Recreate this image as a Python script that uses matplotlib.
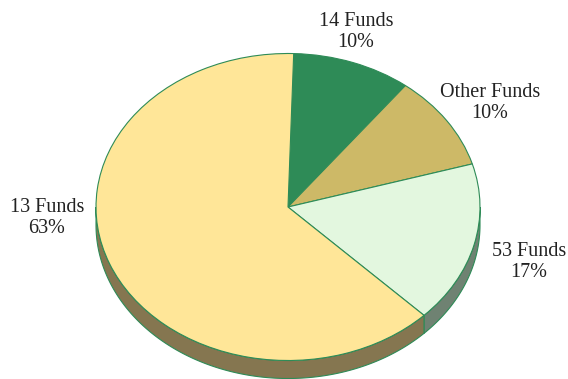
import numpy as np
import matplotlib
matplotlib.use("Agg")
import matplotlib.pyplot as plt

W, H = 568, 379
names = ["14 Funds", "Other Funds", "53 Funds", "13 Funds"]
shares = [10, 10, 17, 63]
top_colors = ["#2E8B57", "#CDB967", "#E3F7DF", "#FFE698"]
wall_colors = ["#1F5E3B", "#8A7D46", "#6F8272", "#857650"]
edge = "#2E8B57"
label_px = [(356, 32), (490, 103), (529, 262), (47, 218)]

fig = plt.figure(figsize=(W / 100, H / 100), dpi=100, facecolor="white")
ax = fig.add_axes([96 / W, (H - 360.5) / H, 384 / W, 307 / H])
wedges, _ = ax.pie(shares, colors=top_colors, startangle=88.3, counterclock=False,
                   wedgeprops=dict(edgecolor=edge, linewidth=0.8), radius=1)
ax.set_aspect("auto")
ax.set_xlim(-1, 1)
ax.set_ylim(-1, 1)
ax.axis("off")

depth = 18 / 153.5
for w, c in zip(wedges, wall_colors):
    a, b = w.theta1 % 360, w.theta2 % 360
    if b <= a:
        b += 360
    for shift in (0, 360):
        lo, hi = max(a, 180 + shift), min(b, 360 + shift)
        if hi <= lo:
            continue
        t = np.radians(np.linspace(lo, hi, 200))
        x, y = np.cos(t), np.sin(t)
        ax.fill(np.r_[x, x[::-1]], np.r_[y, y[::-1] - depth], facecolor=c, edgecolor=edge,
                linewidth=0.8, clip_on=False, zorder=0)

for w in wedges:
    w.set_clip_on(False)
    w.set_zorder(2)

for n, s, (px, py) in zip(names, shares, label_px):
    fig.text(px / W, 1 - py / H, f"{n}\n{s}%", ha="center", va="center", fontsize=14.5,
             family="Liberation Serif", color="#222222", linespacing=1.2)

fig.savefig("out.png", dpi=100)
